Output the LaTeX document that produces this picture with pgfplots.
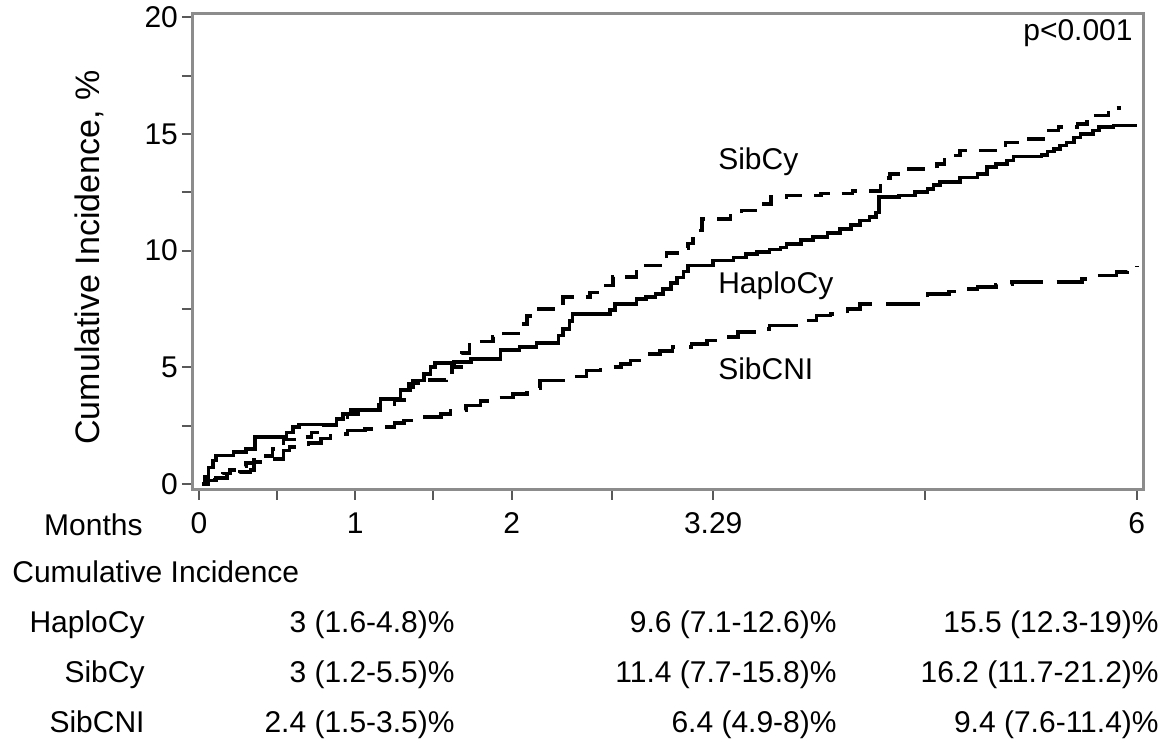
\documentclass[border=0pt]{standalone}
\usepackage{fontspec}
\setmainfont{Liberation Sans}
\usepackage{pgfplots}
\pgfplotsset{compat=1.18}

% step data: (start of step, level)
\newcommand{\haplo}{
(0.02,0) (0.04,0.3) (0.06,0.7) (0.09,1.0) (0.11,1.21) (0.22,1.36) (0.30,1.5)
(0.36,2.0) (0.56,2.21) (0.60,2.43) (0.64,2.55) (0.88,2.79) (0.92,3.0) (0.97,3.17)
(1.16,3.64) (1.29,4.03) (1.35,4.14) (1.37,4.43) (1.44,4.71) (1.48,5.0) (1.51,5.17)
(1.63,5.23) (1.74,5.36) (1.93,5.74) (2.05,5.86) (2.16,6.03) (2.30,6.36) (2.33,6.64)
(2.37,6.99) (2.39,7.29) (2.63,7.46) (2.66,7.71) (2.80,7.93) (2.86,8.0) (2.92,8.15)
(2.97,8.35) (3.02,8.6) (3.06,8.85) (3.10,9.1) (3.13,9.36) (3.29,9.57) (3.42,9.71)
(3.50,9.85) (3.57,9.93) (3.65,10.05) (3.72,10.14) (3.76,10.29) (3.85,10.45)
(3.93,10.57) (4.02,10.75) (4.10,10.93) (4.17,11.1) (4.23,11.29) (4.29,11.45)
(4.33,11.64) (4.35,12.29) (4.48,12.36) (4.58,12.5) (4.66,12.64) (4.70,12.8)
(4.74,12.93) (4.87,13.14) (4.98,13.29) (5.04,13.57) (5.10,13.7) (5.17,13.86)
(5.21,14.03) (5.39,14.1) (5.43,14.25) (5.47,14.36) (5.51,14.5) (5.55,14.64)
(5.60,14.85) (5.64,15.0) (5.72,15.14) (5.76,15.29) (5.85,15.36) (6.0,15.36)}
\newcommand{\sibcy}{
(0.02,0) (0.06,0.15) (0.10,0.3) (0.15,0.45) (0.20,0.6) (0.25,0.75) (0.30,0.9)
(0.35,1.05) (0.40,1.2) (0.47,1.5) (0.54,1.9) (0.65,2.0) (0.72,2.2) (0.80,2.5)
(0.88,2.75) (0.95,3.0) (1.05,3.15) (1.15,3.4) (1.25,3.6) (1.34,4.3) (1.42,4.46)
(1.58,4.6) (1.62,5.0) (1.68,5.6) (1.73,6.1) (1.88,6.3) (1.95,6.45) (2.04,6.86)
(2.10,7.2) (2.15,7.5) (2.33,8.0) (2.50,8.2) (2.60,8.5) (2.65,8.86) (2.80,9.36)
(2.95,9.6) (2.99,9.9) (3.08,10.1) (3.13,10.3) (3.16,10.6) (3.19,10.86) (3.22,11.36)
(3.40,11.57) (3.47,11.71) (3.60,12.0) (3.66,12.29) (3.76,12.36) (3.98,12.45)
(4.18,12.55) (4.36,13.1) (4.42,13.29) (4.50,13.5) (4.72,13.7) (4.77,14.07)
(4.87,14.29) (5.12,14.5) (5.16,14.64) (5.25,14.79) (5.44,15.14) (5.50,15.29)
(5.62,15.43) (5.68,15.79) (5.82,15.9) (5.87,16.1) (5.90,16.1)}
\newcommand{\sibcni}{
(0.02,0) (0.06,0.15) (0.11,0.25) (0.18,0.4) (0.26,0.5) (0.33,0.6) (0.35,0.93)
(0.47,1.07) (0.54,1.43) (0.58,1.57) (0.70,1.75) (0.78,1.95) (0.84,2.14) (0.95,2.29)
(1.06,2.36) (1.14,2.43) (1.25,2.6) (1.31,2.71) (1.43,2.86) (1.55,3.0) (1.61,3.14)
(1.71,3.36) (1.80,3.55) (1.90,3.71) (2.01,3.86) (2.10,4.1) (2.18,4.43) (2.38,4.6)
(2.48,4.86) (2.57,5.0) (2.70,5.15) (2.76,5.29) (2.84,5.57) (2.95,5.7) (3.03,5.86)
(3.15,6.0) (3.25,6.15) (3.35,6.29) (3.45,6.5) (3.55,6.65) (3.65,6.79) (3.85,7.0)
(3.95,7.21) (4.04,7.29) (4.15,7.5) (4.23,7.71) (4.60,7.86) (4.66,8.14) (4.80,8.25)
(4.87,8.36) (4.98,8.43) (5.10,8.55) (5.20,8.64) (5.65,8.79) (5.75,8.93)
(5.87,9.07) (5.94,9.29) (6.0,9.35)}

\begin{document}
\begin{tikzpicture}[font=\fontsize{15pt}{18pt}\selectfont]
% pixel frame of the reference: 1 px = 0.5pt, origin at top left
\begin{scope}[x=0.5pt, y=-0.5pt, shift={(-96pt,244.5pt)}]
\path[use as bounding box] (0,0) rectangle (1176,740);
\end{scope}

\begin{axis}[
    at={(0,0)}, anchor=south west,
    scale only axis, width=475.5pt, height=238pt,
    xmin=-0.045, xmax=6.04,
    ymin=-0.244, ymax=20.16,
    axis line style={line width=1.5pt, color=black!45},
    tick pos=left, tick align=outside,
    major tick length=5pt,
    tick style={line width=1pt, color=black!65},
    xtick={0,0.5,1,1.5,2,2.645,3.29,4.645,6},
    xticklabels={0,,1,,2,,3.29,,6},
    ytick={0,2.5,...,20},
    yticklabels={0,,5,,10,,15,,20},
    xticklabel style={yshift=-3pt},
    yticklabel style={xshift=1.5pt},
    /pgf/number format/assume math mode=true,
    clip=false,
    every axis plot/.append style={const plot, line width=1.8pt, black, line cap=butt},
]
\addplot[solid] coordinates {\haplo};
\addplot[dash pattern=on 9pt off 6pt] coordinates {\sibcy};
\addplot[dash pattern=on 17pt off 7pt] coordinates {\sibcni};

\node[anchor=west, inner sep=0] at (axis cs:3.32,13.82) {SibCy};
\node[anchor=west, inner sep=0] at (axis cs:3.32,8.5) {HaploCy};
\node[anchor=west, inner sep=0] at (axis cs:3.32,4.94) {SibCNI};
\end{axis}

\begin{scope}[x=0.5pt, y=-0.5pt, shift={(-96pt,244.5pt)}, every node/.style={inner sep=0}]
\node[anchor=base east] at (1133,40) {p<0.001};
\node[anchor=base, rotate=90, font=\fontsize{17pt}{20pt}\selectfont] at (100,257) {Cumulative Incidence, \%};
\node[anchor=base east] at (143,535) {Months};
\node[anchor=base west] at (12,582) {Cumulative Incidence};
\node[anchor=base east] at (145,632) {HaploCy};
\node[anchor=base east] at (145,682) {SibCy};
\node[anchor=base east] at (145,732) {SibCNI};
\node[anchor=base east] at (455,632) {3 (1.6-4.8)\%};
\node[anchor=base east] at (455,682) {3 (1.2-5.5)\%};
\node[anchor=base east] at (455,732) {2.4 (1.5-3.5)\%};
\node[anchor=base east] at (837,632) {9.6 (7.1-12.6)\%};
\node[anchor=base east] at (837,682) {11.4 (7.7-15.8)\%};
\node[anchor=base east] at (837,732) {6.4 (4.9-8)\%};
\node[anchor=base east] at (1159,632) {15.5 (12.3-19)\%};
\node[anchor=base east] at (1159,682) {16.2 (11.7-21.2)\%};
\node[anchor=base east] at (1159,732) {9.4 (7.6-11.4)\%};
\end{scope}
\end{tikzpicture}
\end{document}
